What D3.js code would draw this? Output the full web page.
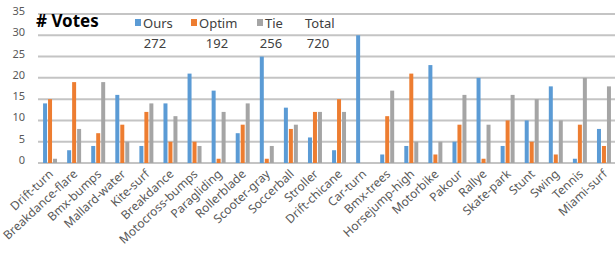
<!DOCTYPE html>
<meta charset="utf-8">
<style>
  body { margin: 0; background: #fff; }
  .tick-label { font-family: "Noto Sans", sans-serif; font-size: 11px; fill: #595959; }
  .cat-label { font-family: "Noto Sans", sans-serif; font-size: 12px; fill: #595959; }
  .legend-text { font-family: "Noto Sans", sans-serif; font-size: 13px; fill: #404040; }
  .title { font-family: "Noto Sans", sans-serif; font-size: 17px; font-weight: bold; fill: #000; }
</style>
<body>
<script src="https://d3js.org/d3.v7.min.js"></script>
<script>
var categories = ["Drift-turn", "Breakdance-flare", "Bmx-bumps", "Mallard-water", "Kite-surf", "Breakdance",
  "Motocross-bumps", "Paragliding", "Rollerblade", "Scooter-gray", "Soccerball", "Stroller", "Drift-chicane",
  "Car-turn", "Bmx-trees", "Horsejump-high", "Motorbike", "Pakour", "Rallye", "Skate-park", "Stunt", "Swing",
  "Tennis", "Miami-surf"];
var ours  = [14, 3, 4, 16, 4, 14, 21, 17, 7, 25, 13, 6, 3, 30, 2, 4, 23, 5, 20, 4, 10, 18, 1, 8];
var optim = [15, 19, 7, 9, 12, 5, 5, 1, 9, 1, 8, 12, 15, 0, 11, 21, 2, 9, 1, 10, 5, 2, 9, 4];
var tie   = [1, 8, 19, 5, 14, 11, 4, 12, 14, 4, 9, 12, 12, 0, 17, 5, 5, 16, 9, 16, 15, 10, 20, 18];
var seriesNames = ["Ours", "Optim", "Tie"];
var yTicks = [0, 5, 10, 15, 20, 25, 30, 35];

var colors = ["#5b9bd5", "#ed7d31", "#a5a5a5"];
var seriesData = [ours, optim, tie];

var width = 615, height = 255;

var svg = d3.select("body").append("svg")
    .attr("width", width)
    .attr("height", height);

var y = d3.scaleLinear().domain([0, 35]).range([163, 14]);
var x = d3.scaleBand().domain(categories).range([38, 616])
    .paddingInner(0.42).paddingOuter(0.21);
var xs = d3.scaleBand().domain(seriesNames).range([0, x.bandwidth()]).paddingInner(0.2);

// gridlines
svg.append("g").selectAll("line")
    .data(yTicks)
  .enter().append("line")
    .attr("x1", 38).attr("x2", 616)
    .attr("y1", function (d) { return y(d); })
    .attr("y2", function (d) { return y(d); })
    .style("stroke", "#c4c4c4")
    .style("stroke-width", 2);

// y labels
svg.append("g").selectAll("text")
    .data(yTicks)
  .enter().append("text")
    .attr("class", "tick-label")
    .attr("x", 25)
    .attr("y", function (d) { return y(d) - 2; })
    .attr("text-anchor", "end")
    .attr("dominant-baseline", "middle")
    .text(function (d) { return d; });

// bars
var groups = svg.append("g").selectAll("g")
    .data(categories)
  .enter().append("g")
    .attr("transform", function (d) { return "translate(" + x(d) + ",0)"; });

groups.selectAll("rect")
    .data(function (d, i) {
      return seriesNames.map(function (s, j) { return {s: s, v: seriesData[j][i], c: colors[j]}; });
    })
  .enter().append("rect")
    .attr("x", function (d) { return xs(d.s); })
    .attr("y", function (d) { return y(d.v); })
    .attr("width", xs.bandwidth())
    .attr("height", function (d) { return y(0) - y(d.v); })
    .attr("fill", function (d) { return d.c; });

// category labels
svg.append("g").selectAll("text")
    .data(categories)
  .enter().append("text")
    .attr("class", "cat-label")
    .attr("text-anchor", "end")
    .attr("transform", function (d) {
      return "translate(" + (x(d) + x.bandwidth() / 2 + 4) + ",175) rotate(-43)";
    })
    .text(function (d) { return d; });

// title
svg.append("text")
    .attr("class", "title")
    .attr("x", 36).attr("y", 27)
    .text("# Votes");

// legend table
var totals = seriesData.map(function (s) { return d3.sum(s); });
var legendX = [135, 191, 257];
var legend = svg.append("g");
seriesNames.forEach(function (s, i) {
  legend.append("rect")
      .attr("x", legendX[i]).attr("y", 19)
      .attr("width", 6).attr("height", 7)
      .attr("fill", colors[i]);
  legend.append("text")
      .attr("class", "legend-text")
      .attr("x", legendX[i] + 8).attr("y", 28)
      .text(s);
});
legend.append("text")
    .attr("class", "legend-text")
    .attr("x", 305).attr("y", 28)
    .text("Total");

var totalCenters = [155, 217, 271, 318];
totals.concat([d3.sum(totals)]).forEach(function (t, i) {
  legend.append("text")
      .attr("class", "legend-text")
      .attr("x", totalCenters[i]).attr("y", 48)
      .attr("text-anchor", "middle")
      .text(t);
});
</script>
</body>
</html>
